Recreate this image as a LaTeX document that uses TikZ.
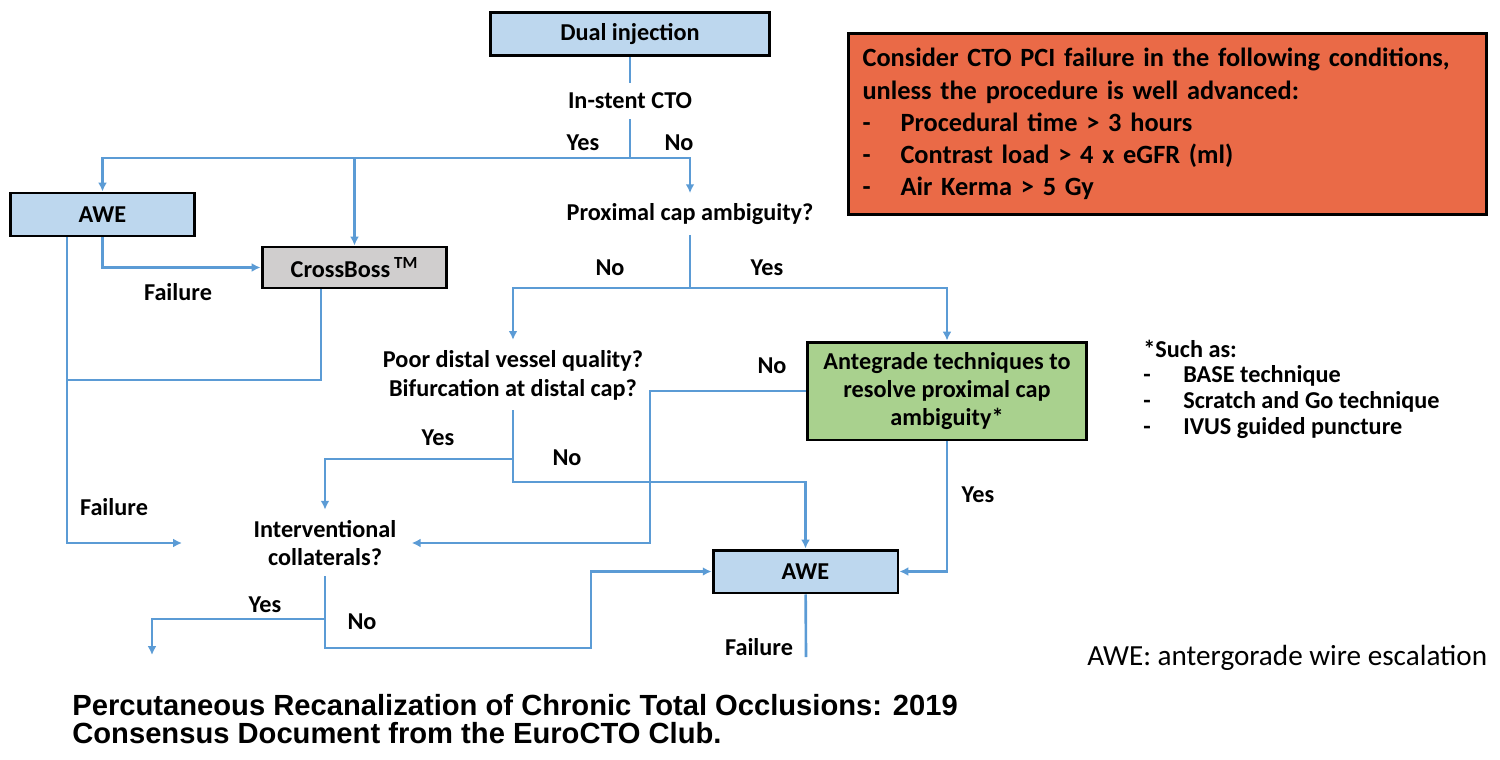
\documentclass[tikz,border=0pt]{standalone}
\usepackage{fontspec}
\setmainfont{Carlito}
\newfontfamily\capfont{Liberation Sans}
\usetikzlibrary{arrows.meta}

\definecolor{flowblue}{HTML}{5B9BD5}
\definecolor{boxblue}{HTML}{BDD7EE}
\definecolor{boxgray}{HTML}{D0CECE}
\definecolor{boxgreen}{HTML}{A9D18E}
\definecolor{boxred}{HTML}{EA6A47}

\newcommand{\itemdash}[1]{\makebox[#1][l]{-}}

\tikzset{
  box/.style={draw=black, line width=1.7pt, minimum width=3.7cm, minimum height=0.86cm,
    inner sep=0pt, align=center, font=\fontsize{13.8}{16}\selectfont\bfseries},
  ask/.style={align=center, inner xsep=2pt, inner ysep=0.2cm,
    font=\fontsize{13.8}{16.4}\selectfont\bfseries},
  lbl/.style={inner sep=0pt, font=\fontsize{13.8}{15}\selectfont\bfseries},
  line/.style={draw=flowblue, line width=1.5pt},
  flow/.style={line, -{Latex[length=5pt,width=5pt]}},
}

\begin{document}
\begin{tikzpicture}[x=0.02cm, y=-0.02cm]
  \useasboundingbox (0,0) rectangle (1500,760);

  % boxes and questions
  \node[box, fill=boxblue, minimum width=5.6cm] (dual) at (630,34) {Dual injection};
  \node[ask] (instent) at (630,101) {In-stent CTO};
  \node[box, fill=boxblue] (awe1) at (102.5,214.5) {AWE};
  \node[box, fill=boxgray, minimum height=0.82cm] (cross) at (354.5,267.5) {CrossBoss\,\textsuperscript{TM}};
  \node[ask] (prox) at (690,214) {Proximal cap ambiguity?};
  \node[ask] (poor) at (513,375) {Poor distal vessel quality?\\Bifurcation at distal cap?};
  \node[box, fill=boxgreen, minimum width=5.6cm, minimum height=1.96cm] (green) at (947,391)
    {Antegrade techniques to\\resolve proximal cap\\ambiguity*};
  \node[ask, inner xsep=0.3cm] (interv) at (325,543) {Interventional\\collaterals?};
  \node[box, fill=boxblue] (awe2) at (805.5,571.5) {AWE};

  % stop conditions
  \node[box, fill=boxred, minimum width=12.78cm, minimum height=3.64cm, text width=12.2cm,
    align=left, font=\fontsize{15}{18.3}\selectfont\bfseries] (stop) at (1167.5,124)
    {Consider CTO PCI failure in the following conditions,\\
     unless the procedure is well advanced:\\
     \itemdash{0.76cm}Procedural time > 3 hours\\
     \itemdash{0.76cm}Contrast load > 4 x eGFR (ml)\\
     \itemdash{0.76cm}Air Kerma > 5 Gy};

  \node[anchor=west, inner sep=0pt, align=left, font=\fontsize{13.8}{14.6}\selectfont\bfseries]
    (such) at (1143,389)
    {*Such as:\\
     \itemdash{0.8cm}BASE technique\\
     \itemdash{0.8cm}Scratch and Go technique\\
     \itemdash{0.8cm}IVUS guided puncture};
  \node[anchor=west, inner sep=0pt, font=\fontsize{16.6}{19}\selectfont] (legend) at (1087,658)
    {AWE: antergorade wire escalation};
  \node[anchor=north west, inner sep=0pt, align=left,
    font=\capfont\bfseries\fontsize{16.6}{15.9}\selectfont] (source) at (72,694)
    {Percutaneous Recanalization of Chronic Total Occlusions: 2019\\
     Consensus Document from the EuroCTO Club.};

  % junctions and free ends
  \coordinate (j1) at (630,158);
  \coordinate (j2) at (690,288);
  \coordinate (j3) at (513,459);
  \coordinate (j4) at (513,482);
  \coordinate (j5) at (325,619);
  \coordinate (j7) at (591,648);
  \coordinate (g1) at (650,391);
  \coordinate (f1) at (67,543);
  \coordinate (cb) at (321,380);
  \coordinate (fend) at (182,543);
  \coordinate (yend) at (152,655);
  \coordinate (aend) at (806,657);

  % connectors
  \draw[line] (dual) -- (instent);
  \draw[flow] (instent) -- (j1) -| (awe1);
  \draw[flow] (cross.north |- j1) -- (cross);
  \draw[flow] (j1) -| (prox);
  \draw[flow] (awe1) |- (cross);
  \draw[flow] (awe1.south -| f1) -- (f1) -- (fend);
  \draw[line] (cross.south -| cb) -- (cb) -- (cb -| f1);
  \draw[line] (prox) -- (j2);
  \draw[flow] (j2) -| (poor);
  \draw[flow] (j2) -| (green);
  \draw[flow] (poor) -- (j3) -| (interv);
  \draw[flow] (j3) -- (j4) -| (awe2);
  \draw[flow] (green) -- (g1) |- (interv);
  \draw[flow] (green) |- (awe2);
  \draw[flow] (interv) |- (j7) |- (awe2);
  \draw[flow] (j5) -| (yend);
  \draw[line] (awe2) -- (aend);

  % branch labels
  \node[lbl] (yes1) at (583,143) {Yes};
  \node[lbl] (no1) at (679,143) {No};
  \node[lbl] (fail1) at (178,292) {Failure};
  \node[lbl] (no2) at (610,268) {No};
  \node[lbl] (yes2) at (767,268) {Yes};
  \node[lbl] (no3) at (772,366) {No};
  \node[lbl] (yes3) at (438,438) {Yes};
  \node[lbl] (no4) at (567,458) {No};
  \node[lbl] (yes4) at (978,495) {Yes};
  \node[lbl] (fail2) at (114,507) {Failure};
  \node[lbl] (yes5) at (265,605) {Yes};
  \node[lbl] (no5) at (362,622) {No};
  \node[lbl] (fail3) at (759,647) {Failure};
\end{tikzpicture}
\end{document}
